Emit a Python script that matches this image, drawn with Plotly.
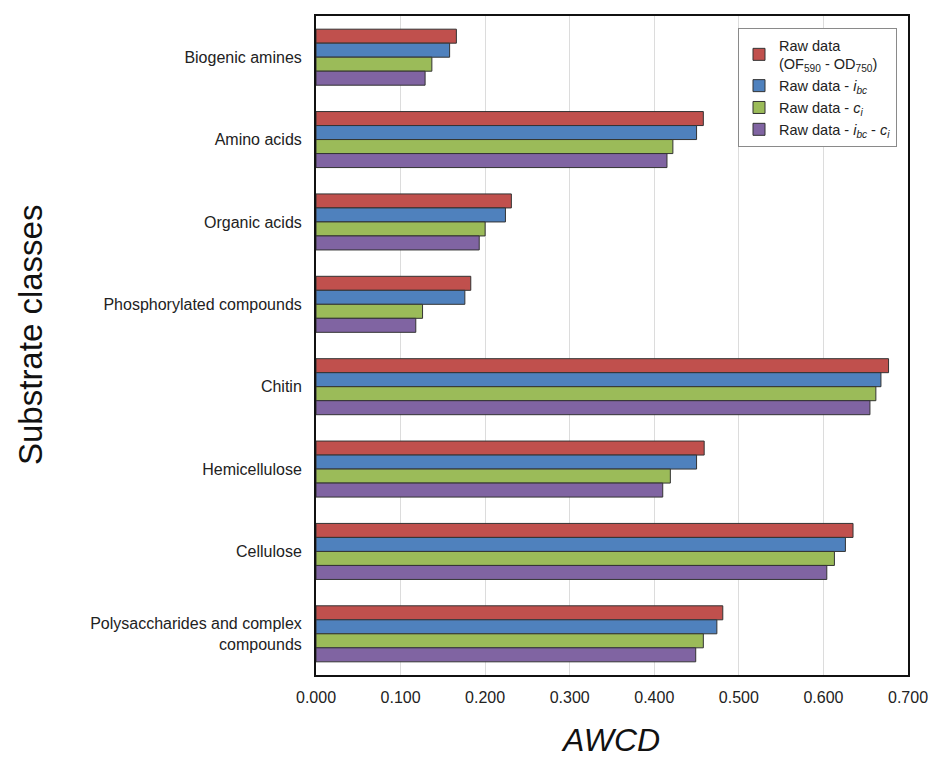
import plotly.graph_objects as go

categories = ["Biogenic amines", "Amino acids", "Organic acids", "Phosphorylated compounds",
              "Chitin", "Hemicellulose", "Cellulose", "Polysaccharides and complex<br>compounds"]

raw = [0.166, 0.458, 0.231, 0.183, 0.677, 0.459, 0.635, 0.481]
raw_ibc = [0.158, 0.450, 0.224, 0.176, 0.668, 0.450, 0.626, 0.474]
raw_ci = [0.137, 0.422, 0.200, 0.126, 0.662, 0.419, 0.613, 0.458]
raw_ibc_ci = [0.129, 0.415, 0.193, 0.118, 0.655, 0.410, 0.604, 0.449]

series_names = ["Raw data<br>(OF<sub>590</sub> - OD<sub>750</sub>)",
                "Raw data - <i>i<sub>bc</sub></i>",
                "Raw data - <i>c<sub>i</sub></i>",
                "Raw data - <i>i<sub>bc</sub></i> - <i>c<sub>i</sub></i>"]
series_values = [raw, raw_ibc, raw_ci, raw_ibc_ci]
colors = ["#C0504D", "#4F81BD", "#9BBB59", "#8064A2"]

x_ticks = [0.0, 0.1, 0.2, 0.3, 0.4, 0.5, 0.6, 0.7]
x_ticklabels = ["0.000", "0.100", "0.200", "0.300", "0.400", "0.500", "0.600", "0.700"]
x_max = 0.7

fig = go.Figure()
for i, (name, vals, col) in enumerate(zip(series_names, series_values, colors)):
    fig.add_trace(go.Bar(
        y=categories, x=vals, name=name, orientation="h",
        marker=dict(color=col, line=dict(color="#333333", width=1)),
        legendgroup=f"g{i}",
    ))

font_family = "Liberation Sans, Arial, sans-serif"
tick_font = dict(size=16, family=font_family, color="#222222")

# the last tick label sits at the very right edge; draw it as an annotation
axis_tickvals = x_ticks[:-1]
axis_ticktext = x_ticklabels[:-1]

fig.update_layout(
    width=930, height=764,
    margin=dict(l=316, r=22, t=16, b=89),
    paper_bgcolor="white", plot_bgcolor="white",
    barmode="group", bargap=0.32, bargroupgap=0,
    font=dict(family=font_family, color="#222222"),
    showlegend=True,
    legend=dict(
        x=(738 - 316) / 592, y=(675 - 28) / 659, xanchor="left", yanchor="top",
        bgcolor="white", bordercolor="#8a8a8a", borderwidth=1,
        font=dict(size=14.5, family=font_family, color="#222222"),
        traceorder="normal", tracegroupgap=13,
    ),
    xaxis=dict(
        range=[0, x_max], tickvals=axis_tickvals, ticktext=axis_ticktext,
        showgrid=True, gridcolor="#dcdcdc", gridwidth=1,
        showline=True, linecolor="#111111", linewidth=2, mirror=True,
        ticks="", tickfont=tick_font,
        ticklabelstandoff=7, zeroline=False, automargin=False,
    ),
    yaxis=dict(
        autorange="reversed", showgrid=False,
        showline=True, linecolor="#111111", linewidth=2, mirror=True,
        ticks="", tickfont=tick_font,
        ticklabelstandoff=9, automargin=False,
    ),
    annotations=[
        dict(text=x_ticklabels[-1], xref="x", yref="paper",
             x=x_ticks[-1], y=0, yshift=-12, xanchor="center", yanchor="top",
             showarrow=False, font=tick_font),
        dict(text="Substrate classes", xref="paper", yref="paper",
             x=(30 - 316) / 592, y=(675 - 335) / 659, textangle=-90,
             showarrow=False, font=dict(size=33, family=font_family, color="#111111"),
             xanchor="center", yanchor="middle"),
        dict(text="<i>AWCD</i>", xref="paper", yref="paper",
             x=(610 - 316) / 592, y=(675 - 740) / 659,
             showarrow=False, font=dict(size=32, family=font_family, color="#111111"),
             xanchor="center", yanchor="middle"),
    ],
)

# remove the default 8px page margin so the 930x764 figure fills the window exactly
fig.write_html("out.html",
               config={"displayModeBar": False},
               post_script="document.body.style.margin='0';document.body.style.overflow='hidden';")
